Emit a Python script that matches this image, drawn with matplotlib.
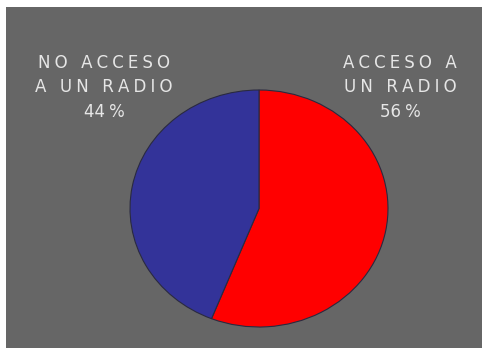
import matplotlib.pyplot as plt
import matplotlib.patches as mpatches

labels = ["ACCESO A\nUN RADIO", "NO ACCESO\nA UN RADIO"]
shares = [56, 44]
colors = ["#ff0000", "#333399"]

W, H = 482, 348
fig = plt.figure(figsize=(W / 100, H / 100), dpi=100)
fig.patch.set_facecolor("white")

# grey panel, leaving a thin white strip on the top and left
fig.patches.append(mpatches.Rectangle((6 / W, 0), 1 - 6 / W, 1 - 7 / H,
                                      transform=fig.transFigure,
                                      facecolor="#666666", edgecolor="none",
                                      zorder=0))

# pie is slightly stretched horizontally
ax = fig.add_axes([130 / W, (H - 327) / H, 258 / W, 237 / H])
ax.set_zorder(2)
ax.pie(shares, colors=colors, startangle=90, counterclock=False,
       wedgeprops=dict(edgecolor="#2a2a40", linewidth=0.8))
ax.set_aspect("auto")
ax.set_xlim(-1.0, 1.0)
ax.set_ylim(-1.0, 1.0)
ax.axis("off")


def spaced(s):
    return "\u2005".join(s)


def label_block(x, y, lines, pct):
    txt = "\n".join(spaced(l) for l in lines) + "\n" + f"{pct}\u2005%"
    fig.text(x / W, 1 - y / H, txt, ha="center", va="top",
             color="#e6e6e6", fontsize=12, linespacing=1.45,
             family="DejaVu Sans", zorder=3)


label_block(104, 54, labels[1].split("\n"), shares[1])
label_block(400, 54, labels[0].split("\n"), shares[0])

fig.savefig("out.png", dpi=100, facecolor=fig.get_facecolor())
